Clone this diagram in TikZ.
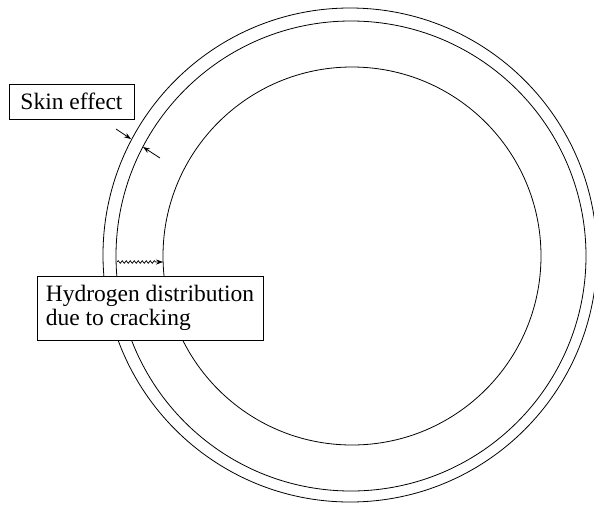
\documentclass[tikz,border=0pt]{standalone}
\usepackage{fontspec}
\setmainfont{Liberation Serif}
\usetikzlibrary{arrows.meta,decorations.pathmorphing}
\tikzset{
  ring/.style={draw=black,line width=0.8pt},
  label box/.style={draw=black,line width=1pt,fill=white,inner sep=0pt,
    font=\rmfamily\fontsize{23.5}{23.5}\selectfont},
  pointer/.style={line width=0.8pt,-{Stealth[length=7pt,width=5pt]}},
  wavy/.style={line width=0.7pt,-{Stealth[length=7pt,width=5pt]},
    decorate,decoration={snake,amplitude=1.3pt,segment length=4pt,post length=6pt}}
}
\begin{document}
\begin{tikzpicture}[x=1pt,y=-1pt]
\useasboundingbox (0,0) rectangle (594,504);
% circles
\draw[ring] (350,255) circle[radius=247];
\draw[ring] (351,256) circle[radius=235];
\draw[ring] (352,256) circle[radius=189];
% skin effect arrows
\coordinate (s1a) at (116,129);
\coordinate (s1b) at (131,139);
\coordinate (s2a) at (160,158);
\coordinate (s2b) at (143,147);
\draw[pointer] (s1a) -- (s1b);
\draw[pointer] (s2a) -- (s2b);
% hydrogen wavy arrow
\coordinate (h1) at (117,262);
\coordinate (h2) at (163,262);
\draw[wavy] (h1) -- (h2);
% labels
\node[label box,minimum width=125pt,minimum height=35pt] (skin) at (71.5,101.5) {Skin effect};
\node[label box,align=left,minimum width=226pt,minimum height=64pt] (hyd) at (150,308)
  {Hydrogen distribution\\due to cracking};
\end{tikzpicture}
\end{document}
